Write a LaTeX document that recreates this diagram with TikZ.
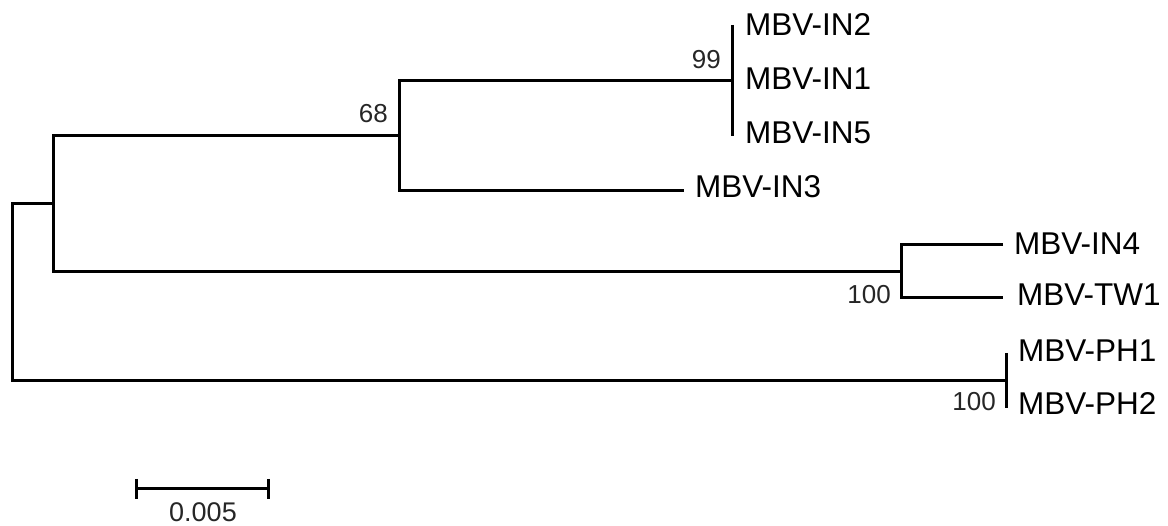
\documentclass[tikz,border=0pt]{standalone}
\usepackage{fontspec}
\setmainfont{Liberation Sans}
\begin{document}
\begin{tikzpicture}[x=1pt,y=-1pt,
  branch/.style={line width=3pt},
  taxon/.style={anchor=west,inner sep=0pt,font=\fontsize{31.5}{31.5}\selectfont},
  boot/.style={anchor=east,inner sep=0pt,font=\fontsize{26}{26}\selectfont,text=black!85},
  scalelbl/.style={inner sep=0pt,font=\fontsize{27}{27}\selectfont,text=black!85}]
\useasboundingbox (0,0) rectangle (1168,526);
% internal nodes
\coordinate (r) at (12,292);
\coordinate (a) at (53,204);
\coordinate (b) at (399,136);
\coordinate (c) at (732,81);
\coordinate (d) at (901,272);
\coordinate (e) at (1006,381);
% tips
\coordinate (in2) at (732,25);
\coordinate (in1) at (732,81);
\coordinate (in5) at (732,136);
\coordinate (in3) at (684,191);
\coordinate (in4) at (1003,245);
\coordinate (tw1) at (1003,298);
\coordinate (ph1) at (1006,353);
\coordinate (ph2) at (1006,408);
% branches
\draw[branch] (a) -| (r) |- (e);
\draw[branch] (b) -| (a) |- (d);
\draw[branch] (c) -| (b) |- (in3);
\draw[branch] (in2) -- (in5);
\draw[branch] (in4) -| (d) |- (tw1);
\draw[branch] (ph1) -- (ph2);
% taxon labels
\node[taxon] (lin2) at (745,25) {MBV-IN2};
\node[taxon] (lin1) at (745,79) {MBV-IN1};
\node[taxon] (lin5) at (745,133) {MBV-IN5};
\node[taxon] (lin3) at (695,187) {MBV-IN3};
\node[taxon] (lin4) at (1014,244) {MBV-IN4};
\node[taxon] (ltw1) at (1017,295) {MBV-TW1};
\node[taxon] (lph1) at (1018,351) {MBV-PH1};
\node[taxon] (lph2) at (1018,404) {MBV-PH2};
% bootstrap values
\node[boot] (b99) at (721,60) {99};
\node[boot] (b68) at (388,114) {68};
\node[boot] (b100a) at (891,295) {100};
\node[boot] (b100b) at (996,402) {100};
% scale bar
\coordinate (s1) at (136,489);
\coordinate (s2) at (268,489);
\draw[branch] (s1) -- (s2);
\draw[branch] ([yshift=10pt]s1) -- ([yshift=-10pt]s1);
\draw[branch] ([yshift=10pt]s2) -- ([yshift=-10pt]s2);
\node[scalelbl] (slbl) at (203,512) {0.005};
\end{tikzpicture}
\end{document}
